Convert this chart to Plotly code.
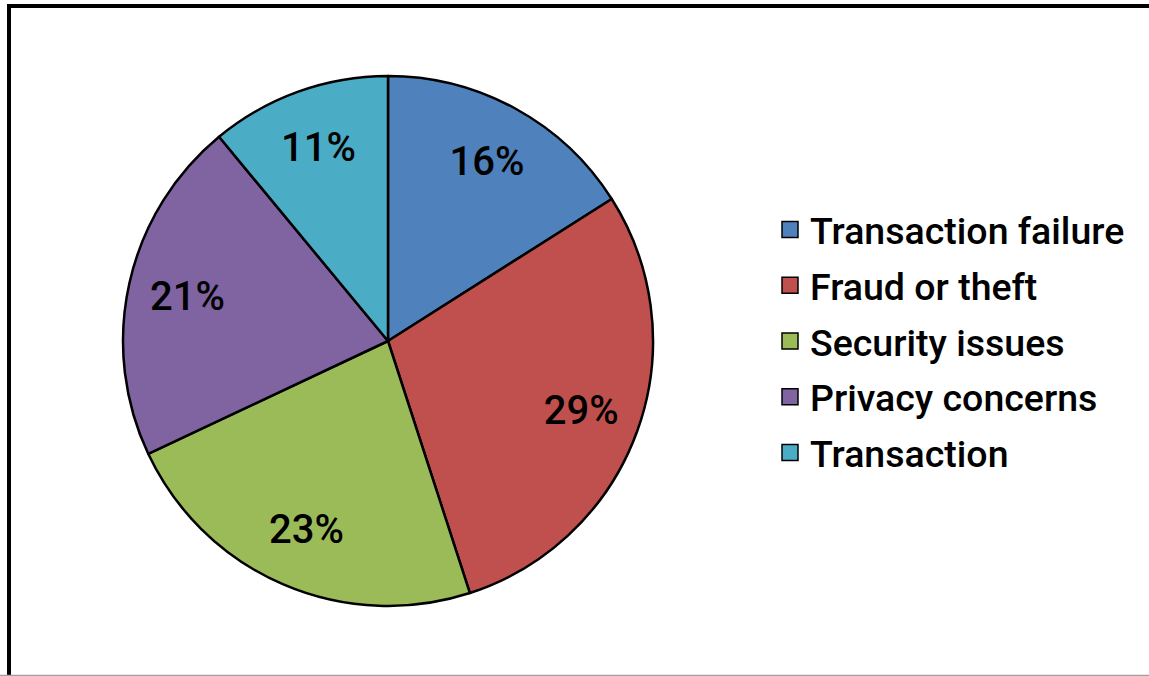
import plotly.graph_objects as go

categories = ["Transaction failure", "Fraud or theft", "Security issues", "Privacy concerns", "Transaction"]
values = [16, 29, 23, 21, 11]
colors = ["#4F81BD", "#C0504D", "#9BBB59", "#8064A2", "#4BACC6"]

W, H = 1149, 676
cx, cy, R = 388, 341, 265
dom = dict(x=[(cx - R) / W, (cx + R) / W], y=[1 - (cy + R) / H, 1 - (cy - R) / H])

fig = go.Figure()

# filled slices
fig.add_trace(go.Pie(
    labels=categories, values=values, sort=False,
    direction="clockwise", rotation=0,
    marker=dict(colors=colors, line=dict(color="black", width=2.5)),
    textinfo="none", showlegend=False, domain=dom,
    hoverinfo="label+percent",
))

# percentage labels (transparent ring so labels sit near the rim)
fig.add_trace(go.Pie(
    labels=categories, values=values, sort=False,
    direction="clockwise", rotation=0, hole=0.55,
    marker=dict(colors=["rgba(0,0,0,0)"] * len(values), line=dict(width=0)),
    texttemplate="%{percent:.0%}", textposition="inside",
    insidetextorientation="horizontal",
    textfont=dict(family="Roboto", size=40, color="black", weight=500),
    showlegend=False, domain=dom, hoverinfo="skip",
))

# legend entries
for name, col in zip(categories, colors):
    fig.add_trace(go.Scatter(
        x=[None], y=[None], mode="markers", name=name, legendgroup=name,
        marker=dict(symbol="square", size=16, color=col, line=dict(color="black", width=1.5)),
    ))

fig.update_layout(
    width=W, height=H,
    margin=dict(l=0, r=0, t=0, b=0),
    paper_bgcolor="white",
    plot_bgcolor="white",
    font=dict(family="Roboto", color="black"),
    xaxis=dict(visible=False), yaxis=dict(visible=False),
    legend=dict(
        x=770 / W, xanchor="left",
        y=1 - 341 / H, yanchor="middle",
        font=dict(family="Roboto", size=37.5, color="black", weight=500),
        bgcolor="rgba(0,0,0,0)",
        tracegroupgap=4,
    ),
    shapes=[
        dict(type="rect", xref="paper", yref="paper",
             x0=9 / W, x1=1.05, y0=-0.05, y1=1 - 6 / H,
             line=dict(color="black", width=4), fillcolor="rgba(0,0,0,0)", layer="above"),
        dict(type="line", xref="paper", yref="paper",
             x0=0, x1=1, y0=0.5 / H, y1=0.5 / H,
             line=dict(color="#A0A0A0", width=1.5), layer="above"),
    ],
)

fig.write_html("out.html", config={"displayModeBar": False},
               post_script="document.body.style.margin='0';")
